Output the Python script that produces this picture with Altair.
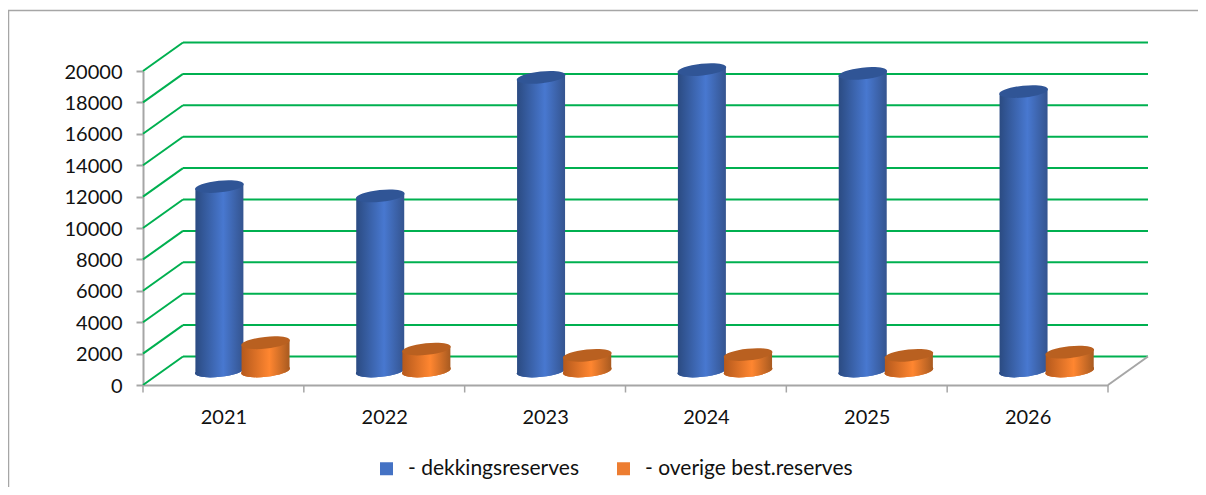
import altair as alt
import pandas as pd
import math

years = ["2021", "2022", "2023", "2024", "2025", "2026"]
dekkings = [11750, 11150, 18700, 19200, 18950, 17800]
overige = [1800, 1400, 1000, 1050, 1000, 1200]
series_names = ["- dekkingsreserves", "- overige best.reserves"]
y_ticks = [0, 2000, 4000, 6000, 8000, 10000, 12000, 14000, 16000, 18000, 20000]

PLOT_W, PLOT_H = 965, 314
UNITS_PER_PX_Y = 20000 / PLOT_H
UNITS_PER_PX_X = 6 / PLOT_W
DEPTH_X = 40 * UNITS_PER_PX_X
DEPTH_Y = 28.5 * UNITS_PER_PX_Y
BASE_Y = 14 * UNITS_PER_PX_Y
HALF_W = 24 * UNITS_PER_PX_X
SLANT = 2.5 * UNITS_PER_PX_Y
BLUE_POS = 0.475
ORANGE_POS = 0.762
FONT = "Lato"


def ellipse_path(a=1.0, b=0.24, deg=-6):
    t = math.radians(deg)
    k = 0.5523

    def p(x, y):
        return f"{x * math.cos(t) - y * math.sin(t):.4f} {x * math.sin(t) + y * math.cos(t):.4f}"

    return (
        f"M {p(-a, 0)} C {p(-a, -k * b)} {p(-k * a, -b)} {p(0, -b)} "
        f"C {p(k * a, -b)} {p(a, -k * b)} {p(a, 0)} "
        f"C {p(a, k * b)} {p(k * a, b)} {p(0, b)} "
        f"C {p(-k * a, b)} {p(-a, k * b)} {p(-a, 0)} Z"
    )


ELLIPSE = ellipse_path()
ELLIPSE_SIZE = 49 ** 2

x_scale = alt.Scale(domain=[0, 6], nice=False, zero=False)
y_scale = alt.Scale(domain=[0, 20000], nice=False, zero=False)
x_axis = alt.Axis(
    values=[i + 0.5 for i in range(6)],
    labelExpr="format(datum.value + 2020.5, 'd')",
    title=None, grid=False, ticks=False, domainColor="#A6A6A6", domainWidth=2,
    labelFont=FONT, labelFontSize=20, labelColor="#111111", labelPadding=22,
    labelFlush=False, labelOverlap=False,
)
y_axis = alt.Axis(
    values=y_ticks, format="d", title=None, grid=False, domainColor="#A6A6A6", domainWidth=2,
    tickColor="#A6A6A6", tickWidth=2, tickSize=7, labelPadding=14, labelOffset=1,
    labelFont=FONT, labelFontSize=20, labelColor="#111111", labelOverlap=False,
)
X = lambda f: alt.X(f, type="quantitative", scale=x_scale, axis=x_axis)
Y = lambda f: alt.Y(f, type="quantitative", scale=y_scale, axis=y_axis)

grid_df = pd.DataFrame({"v": y_ticks})
grid_df["x0"] = 0.0
grid_df["x1"] = DEPTH_X
grid_df["x2"] = 6 + DEPTH_X
grid_df["yb"] = grid_df["v"] + DEPTH_Y

frame = alt.Chart(pd.DataFrame({"a": [0]})).mark_rect(
    fillOpacity=0, stroke="#A6A6A6", strokeWidth=1.5
).encode(
    x=alt.value(-134.5), x2=alt.value(1095), y=alt.value(-60.5), y2=alt.value(460)
)

diag = alt.Chart(grid_df).mark_rule(color="#00B050", strokeWidth=2).encode(
    x=X("x0:Q"), x2="x1:Q", y=Y("v:Q"), y2="yb:Q",
)
back = alt.Chart(grid_df).mark_rule(color="#00B050", strokeWidth=2).encode(
    x=X("x1:Q"), x2="x2:Q", y=Y("yb:Q"),
)

floor_df = pd.DataFrame({"x0": [6.0], "x1": [6 + DEPTH_X], "y0": [0.0], "y1": [DEPTH_Y]})
floor = alt.Chart(floor_df).mark_rule(color="#A6A6A6", strokeWidth=2).encode(
    x=X("x0:Q"), x2="x1:Q", y=Y("y0:Q"), y2="y1:Q",
)
tick_df = pd.DataFrame({"x": list(range(7))})
tick_df["y0"] = 0.0
tick_df["y1"] = -7.5 * UNITS_PER_PX_Y
x_ticks = alt.Chart(tick_df).mark_rule(color="#A6A6A6", strokeWidth=1.5).encode(
    x=X("x:Q"), y=Y("y0:Q"), y2="y1:Q",
)


def gradient(edge_l, mid, edge_r):
    return alt.Gradient(
        gradient="linear", x1=0, x2=1, y1=0, y2=0,
        stops=[
            alt.GradientStop(color=edge_l, offset=0),
            alt.GradientStop(color=mid, offset=0.58),
            alt.GradientStop(color=edge_r, offset=1),
        ],
    )


def cylinders(values, pos, name, grad, top_color):
    rows, tops = [], []
    for i, (yr, v) in enumerate(zip(years, values)):
        cx = i + pos
        tops.append({"year": yr, "cx": cx, "base": BASE_Y, "top": BASE_Y + v, "series": name})
        rows.append({"id": yr, "x": cx - HALF_W, "y": BASE_Y + v - SLANT, "y0": BASE_Y - SLANT})
        rows.append({"id": yr, "x": cx + HALF_W, "y": BASE_Y + v + SLANT, "y0": BASE_Y + SLANT})
    tdf, bdf = pd.DataFrame(tops), pd.DataFrame(rows)
    legend_base = alt.Chart(tdf).mark_point(
        shape=ELLIPSE, filled=True, opacity=1, size=ELLIPSE_SIZE
    ).encode(
        x=X("cx:Q"), y=Y("base:Q"),
        color=alt.Color("series:N",
                        scale=alt.Scale(domain=series_names, range=["#4472C4", "#ED7D31"]),
                        legend=alt.Legend(
                            title=None, orient="none", direction="horizontal",
                            legendX=233, legendY=387, symbolType="square", symbolSize=169,
                            labelFont=FONT, labelFontSize=21, labelColor="#111111",
                            symbolOpacity=1, labelOffset=11, columnPadding=34,
                            symbolStrokeWidth=0, labelLimit=400,
                        )),
    )
    bottom = alt.Chart(tdf).mark_point(
        shape=ELLIPSE, filled=True, opacity=1, size=ELLIPSE_SIZE, fill=grad
    ).encode(x=X("cx:Q"), y=Y("base:Q"))
    body = alt.Chart(bdf).mark_area(color=grad, line=False, opacity=1).encode(
        x=X("x:Q"), y=Y("y:Q"), y2="y0:Q", detail="id:N",
    )
    top = alt.Chart(tdf).mark_point(
        shape=ELLIPSE, filled=True, opacity=1, size=ELLIPSE_SIZE, color=top_color
    ).encode(x=X("cx:Q"), y=Y("top:Q"))
    return [legend_base, bottom, body, top]


blue = cylinders(dekkings, BLUE_POS, series_names[0],
                 gradient("#2B4B82", "#4878D0", "#34548F"), "#305596")
orange = cylinders(overige, ORANGE_POS, series_names[1],
                   gradient("#B5591C", "#FF8630", "#A85A20"), "#B96020")

chart = alt.layer(frame, diag, back, floor, x_ticks, *blue, *orange).properties(
    width=PLOT_W, height=PLOT_H,
    padding={"left": 135, "top": 63, "right": 90, "bottom": 102},
    autosize=alt.AutoSizeParams(type="none"),
).configure_view(stroke=None).configure_axis(labelFont=FONT)

chart.save("out.html", embed_options={"renderer": "svg", "actions": False})
